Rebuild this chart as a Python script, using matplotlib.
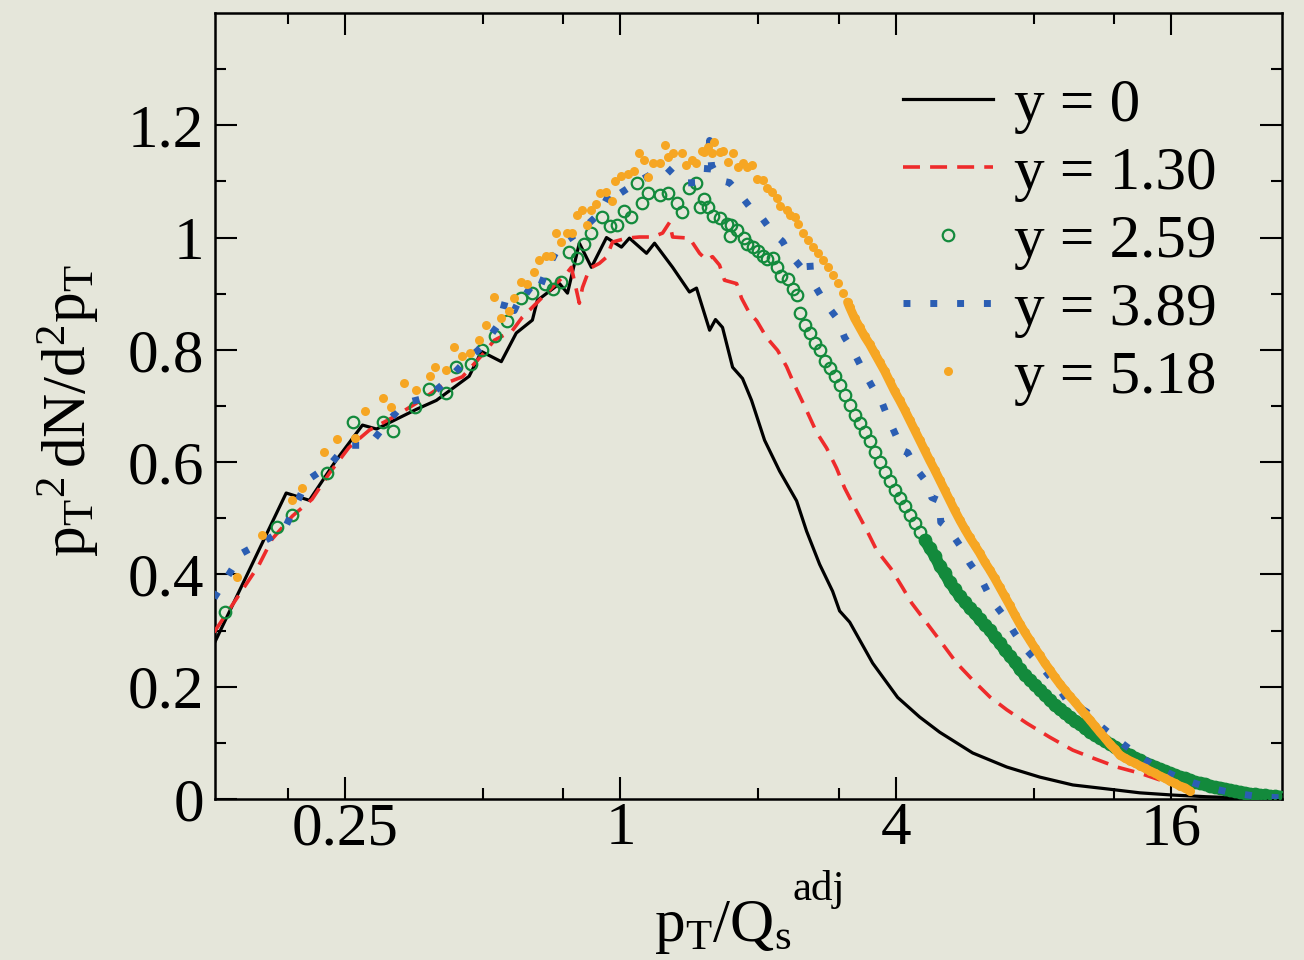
import numpy as np
import matplotlib
matplotlib.use("Agg")
import matplotlib.pyplot as plt
from matplotlib.ticker import FixedLocator, FixedFormatter, NullFormatter

# ---- data (x = pT/Qs^adj, y = pT^2 dN/d^2pT) ----
black_x = [0.130, 0.186, 0.209, 0.239, 0.273, 0.293, 0.358, 0.396, 0.467, 0.497,
           0.549, 0.592, 0.642, 0.658, 0.736, 0.766, 0.813, 0.864, 0.932, 1.005,
           1.046, 1.140, 1.187, 1.300, 1.415, 1.466, 1.566, 1.613, 1.671, 1.758,
           1.848, 1.934, 2.065, 2.227, 2.426, 2.551, 2.724, 2.908, 3.012, 3.169,
           3.557, 4.033, 4.506, 4.983, 5.884, 6.983, 8.248, 9.740, 11.56, 13.64,
           16.11, 19.12, 22.58, 27.9]
black_y = [0.280, 0.545, 0.532, 0.603, 0.666, 0.659, 0.694, 0.710, 0.753, 0.797,
           0.779, 0.830, 0.853, 0.888, 0.918, 0.901, 0.990, 0.947, 1.000, 0.983,
           0.999, 0.972, 0.990, 0.947, 0.903, 0.910, 0.835, 0.854, 0.840, 0.769,
           0.749, 0.710, 0.639, 0.584, 0.531, 0.477, 0.418, 0.370, 0.335, 0.315,
           0.242, 0.181, 0.146, 0.119, 0.082, 0.057, 0.039, 0.025, 0.018, 0.011,
           0.007, 0.004, 0.002, 0.002]

red_x = [0.1294, 0.162, 0.1733, 0.1919, 0.2119, 0.231, 0.255, 0.2826, 0.3236, 0.358,
         0.4165, 0.4513, 0.500, 0.530, 0.580, 0.610, 0.655, 0.699, 0.762, 0.781,
         0.813, 0.826, 0.856, 0.899, 0.932, 0.961, 1.031, 1.100, 1.175, 1.236,
         1.280, 1.300, 1.415, 1.489, 1.542, 1.589, 1.646, 1.688, 1.794, 1.839,
         1.915, 1.984, 2.086, 2.205, 2.307, 2.402, 2.538, 2.683, 2.822, 2.967,
         3.089, 3.265, 3.451, 3.630, 3.895, 4.138, 4.329, 4.983, 5.430, 5.884,
         6.412, 6.983, 7.724, 8.674, 9.740, 10.77, 12.15, 13.64, 15.09, 17.56]
red_y = [0.297, 0.416, 0.463, 0.504, 0.534, 0.580, 0.626, 0.657, 0.683, 0.705,
         0.741, 0.752, 0.792, 0.817, 0.834, 0.858, 0.883, 0.906, 0.936, 0.947,
         0.883, 0.911, 0.945, 0.954, 0.965, 0.992, 0.999, 1.001, 1.001, 1.008,
         1.027, 1.001, 0.999, 0.972, 0.960, 0.966, 0.951, 0.924, 0.918, 0.892,
         0.865, 0.852, 0.822, 0.799, 0.770, 0.737, 0.696, 0.653, 0.625, 0.589,
         0.554, 0.516, 0.479, 0.443, 0.411, 0.376, 0.349, 0.283, 0.242, 0.212,
         0.182, 0.159, 0.135, 0.110, 0.087, 0.073, 0.057, 0.046, 0.034, 0.021]

green_x = [0.1368, 0.1778, 0.1919, 0.2288, 0.2606, 0.3033, 0.3189, 0.3559, 0.3821, 0.4165,
           0.4379, 0.4725, 0.497, 0.5328, 0.566, 0.6075, 0.642, 0.6856, 0.7136, 0.743,
           0.773, 0.805, 0.8344, 0.864, 0.913, 0.951, 0.985, 1.020, 1.052, 1.084,
           1.112, 1.146, 1.217, 1.267, 1.326, 1.360, 1.415, 1.466, 1.489, 1.519,
           1.550, 1.589, 1.646, 1.705, 1.748, 1.731, 1.794, 1.858, 1.886, 1.944,
           1.993, 2.045, 2.086, 2.150, 2.193, 2.238, 2.318, 2.378, 2.426,
           2.463, 2.526, 2.590, 2.656, 2.724, 2.794, 2.865, 2.938, 3.012, 3.089,
           3.168, 3.249, 3.332, 3.417, 3.504, 3.593, 3.685, 3.779, 3.875, 3.974,
           4.075, 4.179, 4.285, 4.395, 4.507, 4.622, 4.740, 4.861, 4.985, 5.112,
           5.242, 5.376, 5.513, 5.654, 5.797, 5.945, 6.097, 6.252, 6.412, 6.575,
           6.743, 6.915, 7.091, 7.272, 7.458, 7.648, 7.843, 8.043, 8.248, 8.459,
           8.674, 8.895, 9.122, 9.355, 9.593, 9.838, 10.09, 10.35, 10.61, 10.88,
           11.16, 11.44, 11.73, 12.03, 12.34, 12.65, 12.98, 13.31, 13.65, 14.00,
           14.35, 14.72, 15.09, 15.48, 15.87, 16.28, 16.69, 17.12, 17.56, 18.00,
           18.46, 18.94, 19.42, 19.91, 20.42, 20.94, 21.47, 22.02, 22.58, 23.16,
           23.75, 24.35, 24.97, 25.61, 26.26, 26.93, 27.62]
green_y = [0.333, 0.484, 0.505, 0.580, 0.672, 0.672, 0.655, 0.699, 0.731, 0.724,
           0.769, 0.774, 0.799, 0.824, 0.852, 0.892, 0.902, 0.918, 0.909, 0.920,
           0.974, 0.963, 0.988, 1.009, 1.036, 1.020, 1.022, 1.047, 1.036, 1.098,
           1.061, 1.079, 1.075, 1.079, 1.061, 1.045, 1.088, 1.097, 1.054, 1.068,
           1.054, 1.039, 1.034, 1.025, 1.022, 1.002, 1.013, 1.000, 0.988, 0.983,
           0.976, 0.968, 0.961, 0.963, 0.947, 0.931, 0.926, 0.908, 0.897,
           0.865, 0.844, 0.830, 0.812, 0.799, 0.780, 0.767, 0.753, 0.737, 0.719,
           0.701, 0.684, 0.669, 0.653, 0.637, 0.618, 0.600, 0.582, 0.566, 0.550,
           0.536, 0.522, 0.506, 0.491, 0.475, 0.461, 0.447, 0.433, 0.415, 0.402,
           0.386, 0.374, 0.361, 0.351, 0.340, 0.331, 0.320, 0.310, 0.301, 0.288,
           0.278, 0.265, 0.255, 0.244, 0.231, 0.221, 0.212, 0.203, 0.194, 0.185,
           0.176, 0.167, 0.160, 0.153, 0.146, 0.139, 0.134, 0.126, 0.119, 0.114,
           0.109, 0.103, 0.098, 0.093, 0.087, 0.082, 0.078, 0.073, 0.069, 0.064,
           0.061, 0.057, 0.053, 0.050, 0.046, 0.043, 0.039, 0.037, 0.034, 0.030,
           0.028, 0.027, 0.023, 0.021, 0.020, 0.018, 0.016, 0.014, 0.012, 0.011,
           0.009, 0.009, 0.007, 0.007, 0.005, 0.005, 0.004]

blue_x = [0.1294, 0.149, 0.184, 0.207, 0.231, 0.252, 0.2826, 0.308, 0.337, 0.378,
          0.4165, 0.456, 0.502, 0.544, 0.563, 0.586, 0.617, 0.655, 0.692, 0.736,
          0.822, 0.899, 0.961, 0.995, 1.084, 1.175, 1.261, 1.366, 1.466, 1.542,
          1.566, 1.581, 1.646, 1.731, 1.821, 1.944, 2.034, 2.150, 2.261, 2.342,
          2.488, 2.590, 2.603, 2.656, 2.794, 2.967, 3.089, 3.216, 3.382, 3.557,
          3.685, 3.837, 4.033, 4.076, 4.242, 4.438, 4.669, 4.788, 4.983, 5.010,
          5.190, 5.513, 5.797, 6.127, 6.476, 6.915, 7.272, 7.724, 8.333, 8.896,
          9.449, 10.45, 11.27, 12.21, 13.51, 14.94, 16.69, 19.12, 21.69, 24.97,
          27.9]
blue_y = [0.358, 0.438, 0.479, 0.568, 0.594, 0.630, 0.630, 0.669, 0.705, 0.715,
          0.744, 0.778, 0.808, 0.848, 0.894, 0.870, 0.910, 0.895, 0.945, 0.986,
          1.013, 1.043, 1.089, 1.078, 1.098, 1.114, 1.125, 1.097, 1.098, 1.102,
          1.173, 1.129, 1.102, 1.098, 1.078, 1.048, 1.036, 1.009, 0.993, 0.971,
          0.946, 0.964, 0.936, 0.915, 0.885, 0.857, 0.822, 0.800, 0.765, 0.733,
          0.717, 0.680, 0.641, 0.623, 0.617, 0.587, 0.564, 0.537, 0.531, 0.493,
          0.483, 0.452, 0.420, 0.393, 0.354, 0.324, 0.295, 0.265, 0.235, 0.207,
          0.176, 0.155, 0.128, 0.105, 0.078, 0.055, 0.037, 0.021, 0.011, 0.004,
          0.002]

orange_x = [0.1455, 0.1648, 0.1919, 0.2018, 0.225, 0.2405, 0.2633, 0.2770, 0.3020, 0.3157,
            0.337, 0.358, 0.3842, 0.3939, 0.4165, 0.4337, 0.4513, 0.4699, 0.4917, 0.5094,
            0.530, 0.549, 0.5716, 0.586, 0.6075, 0.6263, 0.6485, 0.665, 0.6889, 0.7065,
            0.7245, 0.743, 0.7659, 0.7851, 0.805, 0.826, 0.847, 0.864, 0.886, 0.904,
            0.932, 0.956, 0.975, 1.005, 1.036, 1.073, 1.100, 1.123, 1.146, 1.175,
            1.217, 1.248, 1.267, 1.300, 1.360, 1.394, 1.430, 1.466, 1.504, 1.526,
            1.550, 1.581, 1.605, 1.646, 1.671, 1.714, 1.758, 1.803, 1.848, 1.886,
            1.934, 1.984, 2.045, 2.086, 2.139, 2.193, 2.227, 2.307, 2.342, 2.402,
            2.438, 2.500, 2.565, 2.630, 2.697, 2.766, 2.836, 2.908, 2.982, 3.058, 3.136,
            3.168, 3.249, 3.332, 3.417, 3.504, 3.593, 3.685, 3.779, 3.875, 3.974,
            4.075, 4.179, 4.285, 4.395, 4.507, 4.622, 4.740, 4.861, 4.985, 5.112,
            5.242, 5.376, 5.513, 5.654, 5.797, 5.945, 6.097, 6.252, 6.412, 6.575,
            6.743, 6.915, 7.091, 7.272, 7.458, 7.648, 7.843, 8.043, 8.248, 8.459,
            8.674, 8.895, 9.122, 9.355, 9.593, 9.838, 10.09, 10.35, 10.61, 10.88,
            11.16, 11.44, 11.73, 12.03, 12.34, 12.65,
            12.98, 13.31, 13.65, 14.00, 14.35, 14.72, 15.09, 15.48, 15.87, 16.28,
            16.69, 17.12, 17.56]
orange_y = [0.395, 0.470, 0.532, 0.554, 0.618, 0.641, 0.643, 0.691, 0.714, 0.698,
            0.741, 0.728, 0.753, 0.769, 0.764, 0.805, 0.789, 0.794, 0.817, 0.844,
            0.894, 0.856, 0.869, 0.892, 0.920, 0.917, 0.938, 0.960, 0.967, 0.967,
            1.008, 0.992, 1.008, 1.009, 1.041, 1.050, 1.022, 1.049, 1.059, 1.079,
            1.081, 1.065, 1.100, 1.109, 1.113, 1.118, 1.150, 1.139, 1.107, 1.132,
            1.132, 1.164, 1.143, 1.150, 1.150, 1.129, 1.138, 1.132, 1.155, 1.152,
            1.161, 1.150, 1.170, 1.152, 1.155, 1.134, 1.150, 1.125, 1.132, 1.125,
            1.129, 1.104, 1.102, 1.088, 1.081, 1.070, 1.057, 1.049, 1.041, 1.036,
            1.025, 1.009, 0.996, 0.983, 0.972, 0.960, 0.947, 0.933, 0.919, 0.901, 0.885,
            0.876, 0.856, 0.840, 0.824, 0.810, 0.794, 0.778, 0.762, 0.744, 0.726,
            0.710, 0.693, 0.675, 0.657, 0.639, 0.621, 0.603, 0.586, 0.568, 0.550,
            0.532, 0.514, 0.497, 0.481, 0.466, 0.452, 0.438, 0.422, 0.408, 0.393,
            0.377, 0.361, 0.345, 0.328, 0.312, 0.297, 0.283, 0.269, 0.256, 0.242,
            0.230, 0.217, 0.205, 0.194, 0.183, 0.173, 0.162, 0.151, 0.141, 0.130,
            0.119, 0.109, 0.098, 0.089, 0.078, 0.073,
            0.068, 0.064, 0.059, 0.055, 0.050, 0.046, 0.041, 0.037, 0.032, 0.028,
            0.023, 0.020, 0.014]

labels = ["y = 0", "y = 1.30", "y = 2.59", "y = 3.89", "y = 5.18"]
xticks = [0.25, 1, 4, 16]
xtick_labels = ["0.25", "1", "4", "16"]
xminor = [0.1875, 0.5, 0.75, 2, 3, 8, 12]
yticks = [0, 0.2, 0.4, 0.6, 0.8, 1.0, 1.2]
ytick_labels = ["0", "0.2", "0.4", "0.6", "0.8", "1", "1.2"]
yminor = [0.1, 0.3, 0.5, 0.7, 0.9, 1.1, 1.3]

bg = "#e5e6da"
c_red = "#ee2b2b"
c_green = "#138a3c"
c_blue = "#2b5eb3"
c_orange = "#f6a623"

plt.rcParams["font.family"] = ["Liberation Serif", "DejaVu Serif"]
plt.rcParams["mathtext.fontset"] = "custom"
plt.rcParams["mathtext.rm"] = "Liberation Serif"
plt.rcParams["mathtext.it"] = "Liberation Serif:italic"
fs = 44

def main():
    fig = plt.figure(figsize=(13.04, 9.6), dpi=100, facecolor=bg)
    ax = fig.add_axes([215/1304, 161/960, 1067/1304, 786/960], facecolor=bg)

    gx, gy = np.array(green_x), np.array(green_y)
    ox, oy = np.array(orange_x), np.array(orange_y)

    ax.plot(black_x, black_y, color="black", lw=2.3, label=labels[0], zorder=2)
    ax.plot(red_x, red_y, color=c_red, lw=2.6, dashes=(4.7, 2.8), label=labels[1], zorder=3)
    # dense tail of the circles merges into a band
    m = gx >= 4.6
    ax.plot(gx[m], gy[m], color=c_green, lw=8.5, solid_capstyle="round", zorder=4)
    ax.plot(gx, gy, ls="none", marker="o", ms=8.3, mfc="none", mec=c_green, mew=1.6,
            label=labels[2], zorder=4)
    ax.plot(blue_x, blue_y, color=c_blue, lw=5.0, dashes=(1, 2.86), label=labels[3], zorder=5)
    mo = ox >= 3.1
    ax.plot(ox[mo], oy[mo], color=c_orange, lw=6.5, solid_capstyle="round", zorder=6)
    ax.plot(ox, oy, ls="none", marker="o", ms=6.5, mfc=c_orange, mec="none",
            label=labels[4], zorder=6)

    ax.set_xscale("log")
    ax.set_xlim(0.13, 27.9)
    ax.set_ylim(0, 1.4)
    ax.xaxis.set_major_locator(FixedLocator(xticks))
    ax.xaxis.set_major_formatter(FixedFormatter(xtick_labels))
    ax.xaxis.set_minor_locator(FixedLocator(xminor))
    ax.xaxis.set_minor_formatter(NullFormatter())
    ax.yaxis.set_major_locator(FixedLocator(yticks))
    ax.yaxis.set_major_formatter(FixedFormatter(ytick_labels))
    ax.yaxis.set_minor_locator(FixedLocator(yminor))

    ax.tick_params(which="both", direction="in", top=True, right=True, width=1.5, labelsize=fs)
    ax.tick_params(which="major", length=16)
    ax.tick_params(which="minor", length=8)
    ax.tick_params(axis="x", pad=2)
    ax.tick_params(axis="y", pad=8)
    for s in ax.spines.values():
        s.set_linewidth(1.8)

    ax.set_xlabel(r"$\mathrm{p_T/Q_s}$", fontsize=fs)
    ax.xaxis.set_label_coords(0.476, -0.127)
    ax.text(0.5417, -0.1285, "adj", transform=ax.transAxes, fontsize=31,
            ha="left", va="baseline")
    ax.set_ylabel(r"$\mathrm{p_T{}^{2}\,dN/d^{2}p_T}$", fontsize=fs)
    ax.yaxis.set_label_coords(-0.107, 0.495)

    ax.legend(loc="upper left", bbox_to_anchor=(903/1304, 882/960), bbox_transform=fig.transFigure,
              frameon=False, fontsize=fs, numpoints=1, handlelength=1.47, handletextpad=0.35,
              labelspacing=0.2, borderpad=0, borderaxespad=0)

    fig.savefig("out.png", dpi=100, facecolor=bg)

if __name__ == "__main__":
    main()
